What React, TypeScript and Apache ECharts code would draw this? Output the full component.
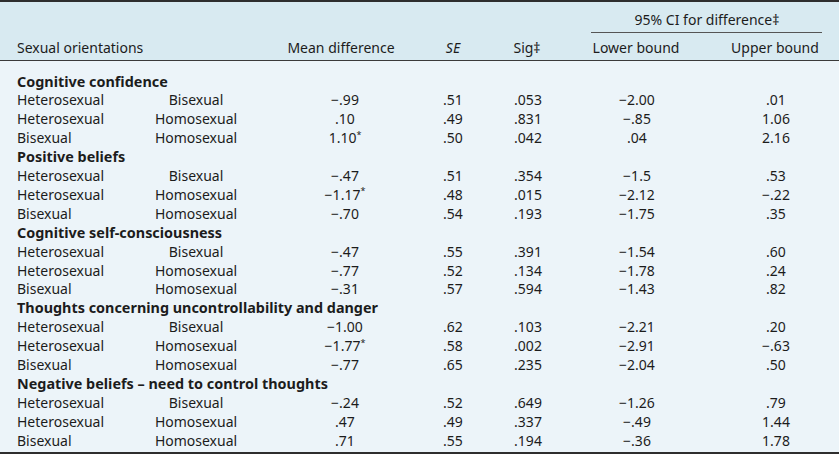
import React, { useEffect, useRef } from "react";
import * as echarts from "echarts";

const groups = [
  "Cognitive confidence",
  "Positive beliefs",
  "Cognitive self-consciousness",
  "Thoughts concerning uncontrollability and danger",
  "Negative beliefs – need to control thoughts",
];
const pairs = [
  ["Heterosexual", "Bisexual"],
  ["Heterosexual", "Homosexual"],
  ["Bisexual", "Homosexual"],
];
const meanDiff = [
  ["−.99", ".10", "1.10*"],
  ["−.47", "−1.17*", "−.70"],
  ["−.47", "−.77", "−.31"],
  ["−1.00", "−1.77*", "−.77"],
  ["−.24", ".47", ".71"],
];
const se = [
  [".51", ".49", ".50"],
  [".51", ".48", ".54"],
  [".55", ".52", ".57"],
  [".62", ".58", ".65"],
  [".52", ".49", ".55"],
];
const sig = [
  [".053", ".831", ".042"],
  [".354", ".015", ".193"],
  [".391", ".134", ".594"],
  [".103", ".002", ".235"],
  [".649", ".337", ".194"],
];
const lower = [
  ["−2.00", "−.85", ".04"],
  ["−1.5", "−2.12", "−1.75"],
  ["−1.54", "−1.78", "−1.43"],
  ["−2.21", "−2.91", "−2.04"],
  ["−1.26", "−.49", "−.36"],
];
const upper = [
  [".01", "1.06", "2.16"],
  [".53", "−.22", ".35"],
  [".60", ".24", ".82"],
  [".20", "−.63", ".50"],
  [".79", "1.44", "1.78"],
];
const headers = ["Sexual orientations", "Mean difference", "SE", "Sig‡", "Lower bound", "Upper bound"];
const spanHeader = "95% CI for difference‡";

const W = 839;
const H = 454;
const FONT = "Noto Sans";
const COLOR = "#1c1c1c";

export default function App() {
  const ref = useRef<HTMLDivElement>(null);
  useEffect(() => {
    document.body.style.margin = "0";
    if (!ref.current) return;
    const chart = echarts.init(ref.current, null, { renderer: "svg" });
    const els: any[] = [];
    const txt = (x: number, y: number, text: string, align: string, extra: any = {}) => {
      const hasStar = text.endsWith("*");
      const style: any = {
        x,
        y,
        text: hasStar ? `{v|${text.slice(0, -1)}}{s|*}` : text,
        align,
        verticalAlign: "middle",
        fontFamily: FONT,
        fontSize: 14,
        fill: COLOR,
        ...extra,
      };
      if (hasStar) {
        style.rich = {
          v: { fontFamily: FONT, fontSize: 14, fill: COLOR, color: COLOR },
          s: { fontFamily: FONT, fontSize: 9, fill: COLOR, color: COLOR, verticalAlign: "top", padding: [0, 0, 7, 0] },
        };
      }
      els.push({ type: "text", style, z: 10 });
    };

    // backgrounds
    els.push({ type: "rect", shape: { x: 0, y: 0, width: W, height: 61 }, style: { fill: "#d8eaf1" }, z: 1 });
    els.push({ type: "rect", shape: { x: 0, y: 61, width: W, height: H - 61 }, style: { fill: "#ecf4f9" }, z: 1 });
    // lines
    els.push({ type: "line", shape: { x1: 0, y1: 1, x2: W, y2: 1 }, style: { stroke: "#2e2e2e", lineWidth: 2 }, z: 5 });
    els.push({ type: "line", shape: { x1: 0, y1: 60.5, x2: W, y2: 60.5 }, style: { stroke: "#3a3a3a", lineWidth: 1 }, z: 5 });
    els.push({ type: "line", shape: { x1: 0, y1: 453, x2: W, y2: 453 }, style: { stroke: "#2e2e2e", lineWidth: 2 }, z: 5 });
    els.push({ type: "line", shape: { x1: 591, y1: 32.5, x2: 822, y2: 32.5 }, style: { stroke: "#555", lineWidth: 1 }, z: 5 });

    // header
    const hy = 47;
    txt(707, 19, spanHeader, "center");
    txt(17, hy, headers[0], "left");
    txt(341, hy, headers[1], "center");
    txt(453, hy, headers[2], "center", { fontStyle: "italic" });
    txt(527, hy, headers[3], "center");
    txt(636, hy, headers[4], "center");
    txt(775, hy, headers[5], "center");

    const rowY = (i: number) => 81 + i * 18.9;
    groups.forEach((g, gi) => {
      txt(17, rowY(gi * 4), g, "left", { fontWeight: "bold", fontSize: 14.4 });
      pairs.forEach((p, pi) => {
        const y = rowY(gi * 4 + pi + 1);
        txt(17, y, p[0], "left");
        txt(196, y, p[1], "center");
        txt(345, y, meanDiff[gi][pi], "center");
        txt(453, y, se[gi][pi], "center");
        txt(528, y, sig[gi][pi], "center");
        txt(637, y, lower[gi][pi], "center");
        txt(776, y, upper[gi][pi], "center");
      });
    });

    chart.setOption({ animation: false, graphic: { elements: els } });
    return () => chart.dispose();
  }, []);
  return <div ref={ref} style={{ width: W, height: H }} />;
}
